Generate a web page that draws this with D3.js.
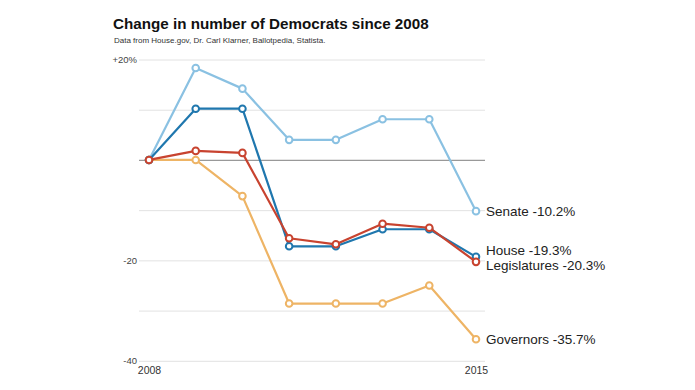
<!DOCTYPE html>
<html><head><meta charset="utf-8">
<script src="https://cdn.jsdelivr.net/npm/d3@7"></script>
<style>body{margin:0;background:#fff;} svg{display:block;}</style>
</head><body><svg id="c" width="695" height="390"></svg>
<script>
const years = [2008, 2009, 2010, 2011, 2012, 2013, 2014, 2015];
const senate = [0, 18.3, 14.2, 4.0, 4.0, 8.1, 8.1, -10.2];
const house = [0, 10.2, 10.2, -17.2, -17.2, -13.8, -13.8, -19.3];
const legislatures = [0, 1.8, 1.4, -15.6, -16.8, -12.7, -13.5, -20.3];
const governors = [0, 0, -7.2, -28.6, -28.6, -28.6, -25.0, -35.7];
const seriesNames = ["Senate", "Governors", "House", "Legislatures"];
const yTicks = [20, 10, 0, -10, -20, -30, -40];
const yTickLabels = {"20": "+20%", "-20": "-20", "-40": "-40"};
const xTickLabels = [2008, 2015];

const colors = {Senate: "#8ac1e2", House: "#1f77ae", Legislatures: "#c8432f", Governors: "#eeb465"};
const values = {Senate: senate, House: house, Legislatures: legislatures, Governors: governors};
const endLabels = [
  {name: "Senate", text: "Senate -10.2%", dy: 0},
  {name: "House", text: "House -19.3%", dy: -7},
  {name: "Legislatures", text: "Legislatures -20.3%", dy: 3},
  {name: "Governors", text: "Governors -35.7%", dy: 0}
];

const svg = d3.select("#c");
const x = d3.scaleLinear().domain([2008, 2015]).range([149, 476]);
const y = d3.scaleLinear().domain([20, -40]).range([59.5, 360.8]);

// title
svg.append("text").attr("x", 113).attr("y", 28.5).text("Change in number of Democrats since 2008")
  .attr("font-family", "Liberation Sans, Arial, sans-serif").attr("font-weight", "bold")
  .attr("font-size", 15.2).attr("fill", "#111");
svg.append("text").attr("x", 114).attr("y", 43).text("Data from House.gov, Dr. Carl Klarner, Ballotpedia, Statista.")
  .attr("font-family", "Liberation Sans, Arial, sans-serif").attr("font-size", 8).attr("fill", "#333");

// grid
const yAxis = d3.axisLeft(y).tickValues(yTicks).tickSize(-(485 - 139))
  .tickFormat(d => yTickLabels[String(d)] || "");
const gy = svg.append("g").attr("transform", "translate(139,0)").call(yAxis);
gy.select(".domain").remove();
gy.selectAll(".tick line").attr("stroke", d => d === 0 ? "#999" : "#e2e2e2").attr("stroke-width", d => d === 0 ? 1.3 : 1);
gy.selectAll(".tick text").attr("x", -2).attr("font-family", "Liberation Sans, Arial, sans-serif")
  .attr("font-size", 9.5).attr("fill", "#444");

// x axis labels
const xAxis = d3.axisBottom(x).tickValues(xTickLabels).tickFormat(d3.format("d")).tickSize(0);
const gx = svg.append("g").attr("transform", "translate(0,364)").call(xAxis);
gx.select(".domain").remove();
gx.selectAll(".tick text").attr("font-family", "Liberation Sans, Arial, sans-serif")
  .attr("font-size", 10.5).attr("fill", "#333").attr("dy", "0.71em");

const line = d3.line().x((d, i) => x(years[i])).y(d => y(d));
seriesNames.forEach(name => {
  const g = svg.append("g");
  g.append("path").datum(values[name]).attr("d", line).attr("fill", "none")
    .attr("stroke", colors[name]).attr("stroke-width", 2.2).attr("stroke-linejoin", "round");
  g.selectAll("circle").data(values[name]).join("circle")
    .attr("cx", (d, i) => x(years[i])).attr("cy", d => y(d)).attr("r", 3.3)
    .attr("fill", "#fff").attr("stroke", colors[name]).attr("stroke-width", 2);
});

svg.selectAll("text.end").data(endLabels).join("text").attr("class", "end")
  .attr("x", 486).attr("y", d => y(values[d.name][7]) + d.dy)
  .attr("dy", "0.35em").text(d => d.text)
  .attr("font-family", "Liberation Sans, Arial, sans-serif").attr("font-size", 13.5).attr("fill", "#222");
</script></body></html>
